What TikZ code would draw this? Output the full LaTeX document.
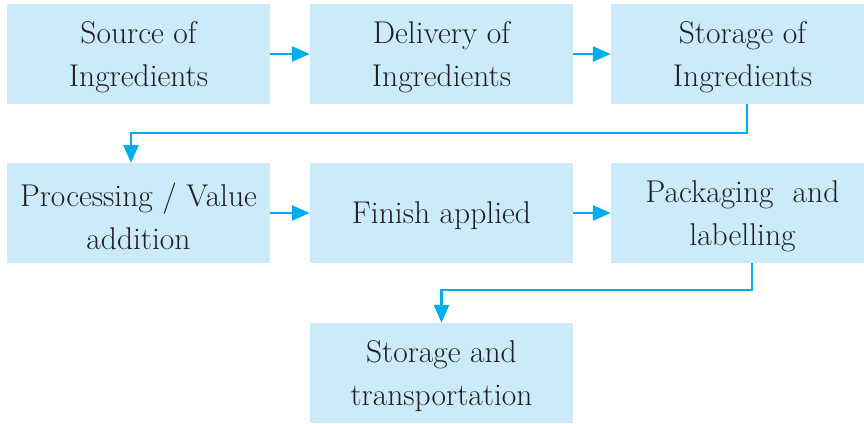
\documentclass[tikz,border=0pt]{standalone}
\usetikzlibrary{arrows.meta,calc}
\definecolor{boxfill}{HTML}{CCEBFA}
\definecolor{arrowc}{HTML}{00AEEF}
\definecolor{txt}{HTML}{231F20}
\begin{document}
\begin{tikzpicture}[x=1pt,y=-1pt,
  box/.style={fill=boxfill,draw=none,minimum width=263pt,minimum height=100pt,
    inner sep=0pt},
  lbl/.style={align=center,text=txt,inner sep=0pt,font=\fontsize{31.5}{43}\selectfont},
  conn/.style={draw=arrowc,line width=2.8pt,-{Triangle[length=18pt,width=15pt]}}]
\useasboundingbox (0,0) rectangle (864,423);
\clip (0,0) rectangle (864,423);
\node[box] (b1) at (138.5,54) {};
\node[box] (b2) at (441.5,54) {};
\node[box] (b3) at (742.5,54) {};
\node[box] (b4) at (138.5,213) {};
\node[box] (b5) at (441.5,213) {};
\node[box] (b6) at (742.5,213) {};
\node[box] (b7) at (441.5,373) {};
\node[lbl] (t1) at ($(b1.center)+(0,3)$) {Source of\\Ingredients};
\node[lbl] (t2) at ($(b2.center)+(0,3)$) {Delivery of\\Ingredients};
\node[lbl] (t3) at ($(b3.center)+(0,3)$) {Storage of\\Ingredients};
\node[lbl] (t4) at ($(b4.center)+(0,3)$) {Processing / Value\\addition};
\node[lbl] (t5) at ($(b5.center)+(0,3)$) {Finish applied};
\node[lbl] (t6) at ($(b6.center)+(0,3)$) {Packaging\ \ and\\labelling};
\node[lbl] (t7) at ($(b7.center)+(0,3)$) {Storage and\\transportation};
\draw[conn] (b1.east) -- (b2.west);
\draw[conn] (b2.east) -- (b3.west);
\draw[conn] (b4.east) -- (b5.west);
\draw[conn] (b5.east) -- (b6.west);
\coordinate (c1) at (747,104);
\coordinate (c2) at (131,163);
\draw[conn] (c1) -- (747,133) -- (131,133) -- (c2);
\coordinate (c3) at (752,263);
\draw[conn] (c3) -- (752,290) -- (441.5,290) -- (b7.north);
\end{tikzpicture}
\end{document}
